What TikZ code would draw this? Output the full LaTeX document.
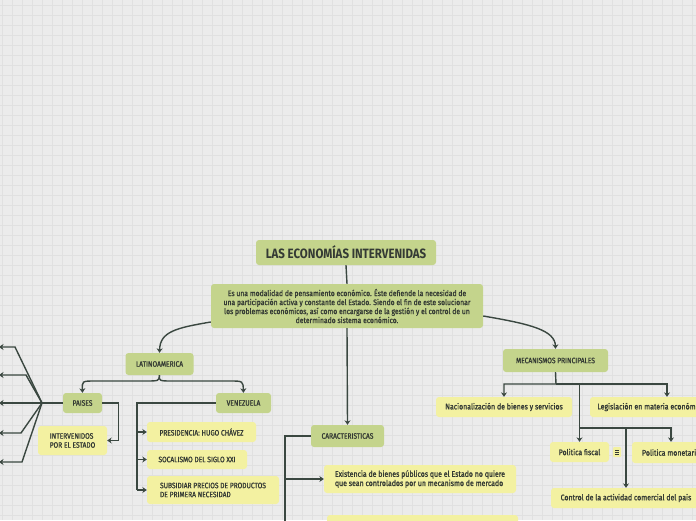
\documentclass[tikz,border=0pt]{standalone}
\usepackage{fontspec}
\setmainfont{Fira Sans}[FakeStretch=0.85]
\newfontfamily\boxfont{Fira Sans}[FakeStretch=0.85, FakeBold=1.2]
\usepackage{xcolor}
\usepackage{tikz}
\usetikzlibrary{positioning,arrows.meta,calc}

\definecolor{paper}{HTML}{EBEBEB}
\definecolor{paperline}{HTML}{E0E0E0}
\definecolor{leafgreen}{HTML}{C4D48C}
\definecolor{leafyellow}{HTML}{F3F1A1}
\definecolor{branch}{HTML}{3A4740}
\definecolor{ink}{HTML}{343A34}

\begin{document}
\begin{tikzpicture}[x=1pt, y=-1pt, >={Stealth[length=4.5pt,width=6pt]},
  gbox/.style={fill=leafgreen, rounded corners=3pt, inner sep=0pt, text=ink, font=\boxfont\fontsize{7.8}{9}\selectfont},
  ybox/.style={fill=leafyellow, rounded corners=3pt, inner sep=0pt, text=ink, font=\boxfont\fontsize{7.8}{9}\selectfont},
  mixed/.style={font=\boxfont\fontsize{8.2}{9.2}\selectfont},
  conn/.style={draw=branch, line width=1.4pt},
  arr/.style={conn, ->}]

\useasboundingbox (0,0) rectangle (696,520);
\clip (0,0) rectangle (696,520);

% Paper and grid
\fill[paper] (0,0) rectangle (696,520);
\foreach \gx in {2,12,...,692} {
    \draw[paperline, line width=0.6pt] (\gx,0) -- (\gx,520);
}
\foreach \gy in {5,15,...,515} {
    \draw[paperline, line width=0.6pt] (0,\gy) -- (696,\gy);
}

% Central topic
\node[gbox, minimum width=180, minimum height=25, font=\bfseries\fontsize{13.5}{15}\selectfont] (title) at (346,252.5) {LAS ECONOMÍAS INTERVENIDAS};
\node[gbox, minimum width=272, minimum height=44, align=center, font=\boxfont\fontsize{8}{9}\selectfont] (desc) at (347,306)
  {Es una modalidad de pensamiento económico. Éste defiende la necesidad de\\
   una participación activa y constante del Estado. Siendo el fin de este solucionar\\
   los problemas económicos, así como encargarse de la gestión y el control de un\\
   determinado sistema económico.};

% Main branches
\node[gbox, minimum width=68, minimum height=22] (lat) at (159.5,364) {LATINOAMERICA};
\node[gbox, minimum width=105, minimum height=23] (mec) at (555.5,360.5) {MECANISMOS PRINCIPALES};
\node[gbox, minimum width=73, minimum height=22] (car) at (347.5,436) {CARACTERISTICAS};

% Latinoamerica
\node[gbox, minimum width=39, minimum height=20] (pai) at (82.5,403) {PAISES};
\node[gbox, minimum width=55, minimum height=20] (ven) at (243.5,403) {VENEZUELA};
\node[ybox, minimum width=69, minimum height=29, align=left] (int) at (72.5,440.5) {INTERVENIDOS\\POR EL ESTADO};
\node[ybox, minimum width=109, minimum height=20] (pre) at (201.5,432) {PRESIDENCIA: HUGO CHÁVEZ};
\node[ybox, minimum width=100, minimum height=19] (soc) at (197,459.5) {SOCALISMO DEL SIGLO XXI};
\node[ybox, minimum width=132, minimum height=28, align=left] (sub) at (213,490) {SUBSIDIAR PRECIOS DE PRODUCTOS\\DE PRIMERA NECESIDAD};

% Caracteristicas
\node[ybox, mixed, minimum width=192, minimum height=28, align=left] (exi) at (420,479)
  {Existencia de bienes públicos que el Estado no quiere\\que sean controlados por un mecanismo de mercado};
\node[ybox, minimum width=191, minimum height=30] (nxt) at (422.5,530) {};

% Mecanismos
\node[ybox, mixed, minimum width=136, minimum height=20] (nac) at (504,407) {Nacionalización de bienes y servicios};
\node[ybox, mixed, minimum width=122, minimum height=20] (leg) at (651,407) {Legislación en materia económica};
\node[ybox, mixed, minimum width=59, minimum height=20] (pfi) at (579.5,452) {Politica fiscal};
\node[ybox, mixed, minimum width=78, minimum height=21] (pmo) at (671,452.5) {Politica monetaria};
\node[ybox, mixed, minimum width=150, minimum height=20] (con) at (626,498) {Control de la actividad comercial del pais};

% Note icon
\node[ybox, minimum width=8, minimum height=10, rounded corners=1pt] (note) at (617,452) {};
\foreach \ny in {-2,0,2} {
    \draw[ink, line width=0.6pt] ($(note.center)+(-2.2,\ny)$) -- ($(note.center)+(2.2,\ny)$);
}

% Connectors from the centre
\draw[conn] (title.south) -- (desc.north);
\draw[arr] ([yshift=-16]desc.west) .. controls (175,328) and (160,332) .. (lat.north);
\draw[arr] ([yshift=-10]desc.east) .. controls (530,324) and (555,330) .. (mec.north);
\draw[arr] (desc.south) -- (car.north);

% Latinoamerica split
\draw[arr] (lat.south) .. controls (159,381) .. (145,381) -- (95,381) .. controls (82,381) .. (pai.north);
\draw[arr] (lat.south) .. controls (159,381) .. (173,381) -- (230,381) .. controls (243,381) .. (ven.north);
\draw[arr] (pai.east) -- ++(16,0) |- (int.east);

% Paises fan (targets off the page)
\coordinate (fan) at (42,403);
\coordinate (p1) at (-1,347);
\coordinate (p2) at (-1,375);
\coordinate (p3) at (-1,403);
\coordinate (p4) at (-1,433);
\coordinate (p5) at (-1,462);
\draw[conn] (pai.west) -- (fan);
\draw[arr] (fan) -- (15,347) -- (p1);
\draw[arr] (fan) -- (26,375) -- (p2);
\draw[arr] (fan) -- (p3);
\draw[arr] (fan) -- (21,433) -- (p4);
\draw[arr] (fan) -- (22,462) -- (p5);

% Venezuela
\coordinate (vtrunk) at (137,403);
\draw[conn] (ven.west) -- (vtrunk) -- (vtrunk |- sub.west);
\draw[arr] (vtrunk |- pre.west) -- (pre.west);
\draw[arr] (vtrunk |- soc.west) -- (soc.west);
\draw[arr] (vtrunk |- sub.west) -- (sub.west);

% Caracteristicas
\coordinate (ctrunk) at (285,436);
\draw[conn] (car.west) -- (ctrunk) -- (285,530);
\draw[arr] (ctrunk |- exi.west) -- (exi.west);

% Mecanismos
\coordinate (mj) at (556,384);
\draw[arr] (mec.south) -- (mj) -| (nac.north);
\draw[arr] (mj) -| ([xshift=16]leg.north);
\coordinate (fj) at (580,428);
\draw[arr] (pfi.north |- mj) -- (pfi.north);
\draw[arr] (fj) -| (pmo.north);
\draw[arr] (con.north |- fj) -- (con.north);

\end{tikzpicture}
\end{document}
